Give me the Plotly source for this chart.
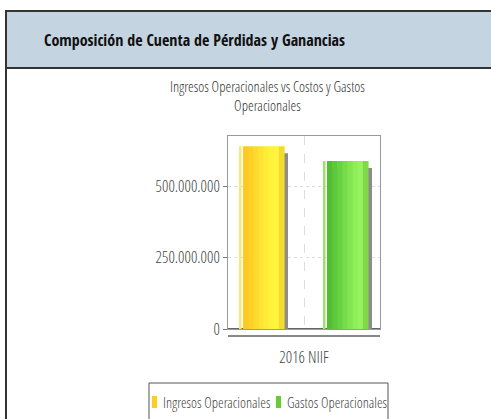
import plotly.graph_objects as go

categories = ["2016 NIIF"]
series_names = ["Ingresos Operacionales", "Gastos Operacionales"]
series_values = [[642_000_000], [590_000_000]]
tick_values = [0, 250_000_000, 500_000_000]
tick_labels = ["0", "250.000.000", "500.000.000"]

header_text = "Composición de Cuenta de Pérdidas y Ganancias"
chart_title = "Ingresos Operacionales vs Costos y Gastos<br>Operacionales"

# ---- layout geometry (pixels) ----
W, H = 491, 419
PL, PR, PT, PB = 228, 380, 136, 329
PW, PH = PR - PL, PB - PT
YMAX = 678_000_000


def px2u(p):  # px width -> category units
    return p / PW


def xp(px):  # absolute px -> paper x
    return (px - PL) / PW


def yp(py):  # absolute px -> paper y
    return (PB - py) / PH


FONT = "Open Sans Condensed Light, Open Sans, sans-serif"
HFONT = "Open Sans Condensed, Liberation Sans, sans-serif"
TXT = "#444444"

# bar styling
styles = [
    dict(stripe="#FFE47A", grad=["#FFC822", "#FFD028", "#FFDA2E", "#FFE334", "#FFEB38", "#FFF23C", "#FFF43E", "#F4DC2C"],
         legend="#FFCC22", left=-65, leg_sym=152, leg_txt=161),
    dict(stripe="#9BE26A", grad=["#52BE33", "#5CC83A", "#68D242", "#76DC4A", "#84E552", "#90EE5A", "#98F260", "#80D84A"],
         legend="#66CC33", left=19, leg_sym=276, leg_txt=285),
]

fig = go.Figure()
px_per_val = PH / YMAX
shapes = [
    # header band
    dict(type="rect", xref="paper", yref="paper", x0=xp(6), x1=xp(500), y0=yp(68), y1=yp(11),
         fillcolor="#C5D4E1", line=dict(color="#333333", width=2), layer="below"),
    # left border of content box
    dict(type="line", xref="paper", yref="paper", x0=xp(6), x1=xp(6), y0=yp(68), y1=yp(430),
         line=dict(color="#333333", width=2)),
    # secondary category axis line
    dict(type="line", xref="paper", yref="paper", x0=0, x1=1, y0=yp(336), y1=yp(336),
         line=dict(color="#888888", width=2)),
    # legend box
    dict(type="rect", xref="paper", yref="paper", x0=xp(149), x1=xp(388), y0=yp(440), y1=yp(383),
         line=dict(color="#555555", width=1), fillcolor="rgba(0,0,0,0)"),
]
annotations = [
    dict(text=header_text, xref="paper", yref="paper", x=xp(42), y=yp(40), xanchor="left", yanchor="middle",
         showarrow=False, font=dict(family=HFONT, size=16, color="#111111", weight="bold")),
    dict(text=chart_title, xref="paper", yref="paper", x=xp(267), y=yp(96), xanchor="center", yanchor="middle",
         showarrow=False, font=dict(family=FONT, size=14.5, color="#333333")),
]

for name, vals, st in zip(series_names, series_values, styles):
    left = st["left"]
    # drop shadow
    shadow_vals = [v - 7 / px_per_val for v in vals]
    fig.add_trace(go.Bar(x=categories, y=shadow_vals, width=px2u(41), offset=px2u(left + 8),
                         marker=dict(color="#8C8C8C", line=dict(width=0)), showlegend=False, hoverinfo="skip"))
    # thin highlight stripe
    fig.add_trace(go.Bar(x=categories, y=vals, width=px2u(2.5), offset=px2u(left),
                         marker=dict(color=st["stripe"], line=dict(width=0)), showlegend=False, hoverinfo="skip"))
    # main body as gradient slices
    n = len(st["grad"])
    main_left = left + 4
    sw = 41 / n
    for i, c in enumerate(st["grad"]):
        fig.add_trace(go.Bar(x=categories, y=vals, width=px2u(sw + 0.6), offset=px2u(main_left + i * sw),
                             marker=dict(color=c, line=dict(width=0)), showlegend=False, name=name))
    # legend entry
    shapes.append(dict(type="rect", xref="paper", yref="paper", x0=xp(st["leg_sym"]), x1=xp(st["leg_sym"] + 5),
                       y0=yp(408), y1=yp(396), fillcolor=st["legend"], line=dict(width=0)))
    annotations.append(dict(text=name, xref="paper", yref="paper", x=xp(st["leg_txt"]), y=yp(402),
                            xanchor="left", yanchor="middle", showarrow=False,
                            font=dict(family=FONT, size=14.4, color=TXT)))

fig.update_layout(
    width=W, height=H,
    margin=dict(l=PL, r=W - PR, t=PT, b=H - PB, autoexpand=False),
    paper_bgcolor="white", plot_bgcolor="white",
    barmode="overlay",
    showlegend=False,
    shapes=shapes, annotations=annotations,
    font=dict(family=FONT),
)
fig.update_xaxes(type="category", range=[-0.5, 0.5], showgrid=True, gridcolor="#DDDDDD", griddash="dash",
                 showline=True, linecolor="#9A9A9A", mirror=True, ticks="",
                 tickfont=dict(family=FONT, size=16, color=TXT), ticklabelstandoff=14)
fig.update_yaxes(range=[0, YMAX], tickvals=tick_values, ticktext=tick_labels, showgrid=True, gridcolor="#DDDDDD",
                 griddash="dot", showline=True, linecolor="#9A9A9A", mirror=True, ticks="outside", ticklen=4,
                 tickcolor="#777777", zeroline=True, zerolinecolor="#666666", zerolinewidth=2,
                 tickfont=dict(family=FONT, size=16, color=TXT))

fig.write_html("out.html", post_script="document.body.style.margin='0';", config={"displayModeBar": False})
